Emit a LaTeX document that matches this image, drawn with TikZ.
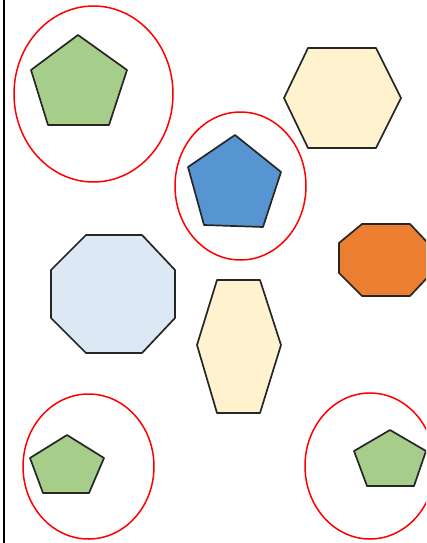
\documentclass[tikz,border=0pt]{standalone}
\begin{document}
\begin{tikzpicture}[x=1pt,y=-1pt,
  polyline/.style={draw=black!85,line width=1.7pt,line join=round},
  ring/.style={draw=red,line width=1.5pt},
  greenfill/.style={polyline,fill={rgb,255:red,166;green,206;blue,138}},
  bluefill/.style={polyline,fill={rgb,255:red,86;green,148;blue,210}},
  yellowfill/.style={polyline,fill={rgb,255:red,255;green,242;blue,206}},
  paleblue/.style={polyline,fill={rgb,255:red,221;green,232;blue,245}},
  orangefill/.style={polyline,fill={rgb,255:red,236;green,126;blue,50}}]
\useasboundingbox (0,0) rectangle (426,543);
\clip (0,0) rectangle (426,543);
% left border line
\draw[line width=1.6pt] (4,0) -- (4,543);
% top-left group
\draw[ring] (93.5,94) ellipse [x radius=79.5, y radius=88];
\draw[greenfill] (78,35) -- (127,70) -- (109,125) -- (48,125) -- (31,70) -- cycle;
% top-right hexagon
\draw[yellowfill] (308,48) -- (376,48) -- (401,98) -- (376,148) -- (308,148) -- (284,98) -- cycle;
% blue pentagon group
\draw[ring] (240.5,186) ellipse [x radius=65.5, y radius=74];
\draw[bluefill] (235,135) -- (281,172) -- (263,227) -- (204,225) -- (188,167) -- cycle;
% light blue octagon
\draw[paleblue] (86,235) -- (142,235) -- (175,270) -- (175,318) -- (142,353) -- (86,353) -- (51,318) -- (51,270) -- cycle;
% orange octagon
\draw[orangefill] (362,224) -- (410,224) -- (427,242) -- (427,278) -- (410,296) -- (362,296) -- (339,273) -- (339,243) -- cycle;
% tall hexagon
\draw[yellowfill] (217,280) -- (260,280) -- (281,345) -- (260,413) -- (217,413) -- (197,345) -- cycle;
% bottom-left group
\draw[ring] (88.5,466.5) ellipse [x radius=65.5, y radius=72.5];
\draw[greenfill] (67,435) -- (104,458) -- (89,493) -- (43,493) -- (30,458) -- cycle;
% bottom-right group
\draw[ring] (370,466) ellipse [x radius=65, y radius=73];
\draw[greenfill] (390,430) -- (426,451) -- (414,486) -- (367,486) -- (354,451) -- cycle;
\end{tikzpicture}
\end{document}
